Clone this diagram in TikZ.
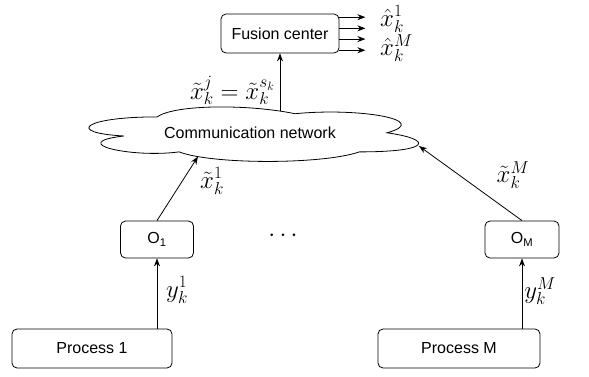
\documentclass[tikz,border=0pt]{standalone}
\usepackage{fontspec}
\setmainfont{Liberation Sans}
\usetikzlibrary{arrows.meta,calc}

\begin{document}
\begin{tikzpicture}[
    x=1pt, y=-1pt,
    font=\fontsize{16}{19}\selectfont,
    box/.style={draw, rounded corners=5pt, line width=0.8pt, align=center, inner sep=0pt},
    arrow/.style={-{Stealth[length=8pt,width=6pt]}, line width=0.8pt},
    lbl/.style={font=\fontsize{25}{30}\selectfont, inner sep=1pt}
  ]
    \useasboundingbox (0,0) rectangle (589,376);
    \node[box, minimum width=118pt, minimum height=39pt] (fusion) at (280,33.5) {Fusion center};
    % cloud outline
    \begin{scope}[shift={(65,101)}, x=368pt, y=-63.6pt, line width=0.8pt]
      \draw (0.25,0.25) .. controls (0.05,0.25) and (0,0.5) .. (0.16,0.55)
        .. controls (0,0.66) and (0.18,0.9) .. (0.31,0.8)
        .. controls (0.4,1) and (0.7,1) .. (0.8,0.8)
        .. controls (1,0.8) and (1,0.6) .. (0.875,0.5)
        .. controls (1,0.3) and (0.8,0.1) .. (0.625,0.2)
        .. controls (0.5,0.05) and (0.3,0.05) .. (0.25,0.25) -- cycle;
    \end{scope}
    \node (net) at (250,133) {Communication network};
    \node[box, minimum width=73pt, minimum height=37pt] (obs1) at (157,239.5) {O\textsubscript{1}};
    \node[box, minimum width=74pt, minimum height=37pt] (obsM) at (522,239.5) {O\textsubscript{M}};
    \node[box, minimum width=160pt, minimum height=39pt] (proc1) at (92,348.5) {Process 1};
    \node[box, minimum width=162pt, minimum height=39pt] (procM) at (459,348.5) {Process M};
    \node[lbl] (dots) at (283,236) {$\cdots$};
    \coordinate (net1) at (198,156.5);
    \coordinate (netM) at (419,146);
    \coordinate (nettop) at (280,111);
    \foreach \t [count=\i] in {0.09,0.37,0.64,0.92} {
      \coordinate (src\i) at ($(fusion.north east)!\t!(fusion.south east)$);
      \draw[arrow] (src\i) -- ++(26,0) coordinate (out\i);
    }
    \node[lbl, anchor=west] (est1) at (379,19) {$\hat{x}_k^1$};
    \node[lbl, anchor=west] (estM) at (379,48) {$\hat{x}_k^M$};
    \draw[arrow] (nettop) -- (fusion.south);
    \node[lbl, anchor=east] (sel) at (276,90) {$\tilde{x}_k^j = \tilde{x}_k^{s_k}$};
    \draw[arrow] (obs1.north) -- (net1);
    \draw[arrow] (obsM.north) -- (netM);
    \node[lbl, anchor=west] (z1) at (199,181) {$\tilde{x}_k^1$};
    \node[lbl] (zM) at (513,175) {$\tilde{x}_k^M$};
    \draw[arrow] (proc1.north -| obs1) -- (obs1.south);
    \draw[arrow] (procM.north -| obsM) -- (obsM.south);
    \node[lbl] (y1) at (177,290) {$y_k^1$};
    \node[lbl] (yM) at (540,291) {$y_k^M$};
  \end{tikzpicture}
\end{document}
